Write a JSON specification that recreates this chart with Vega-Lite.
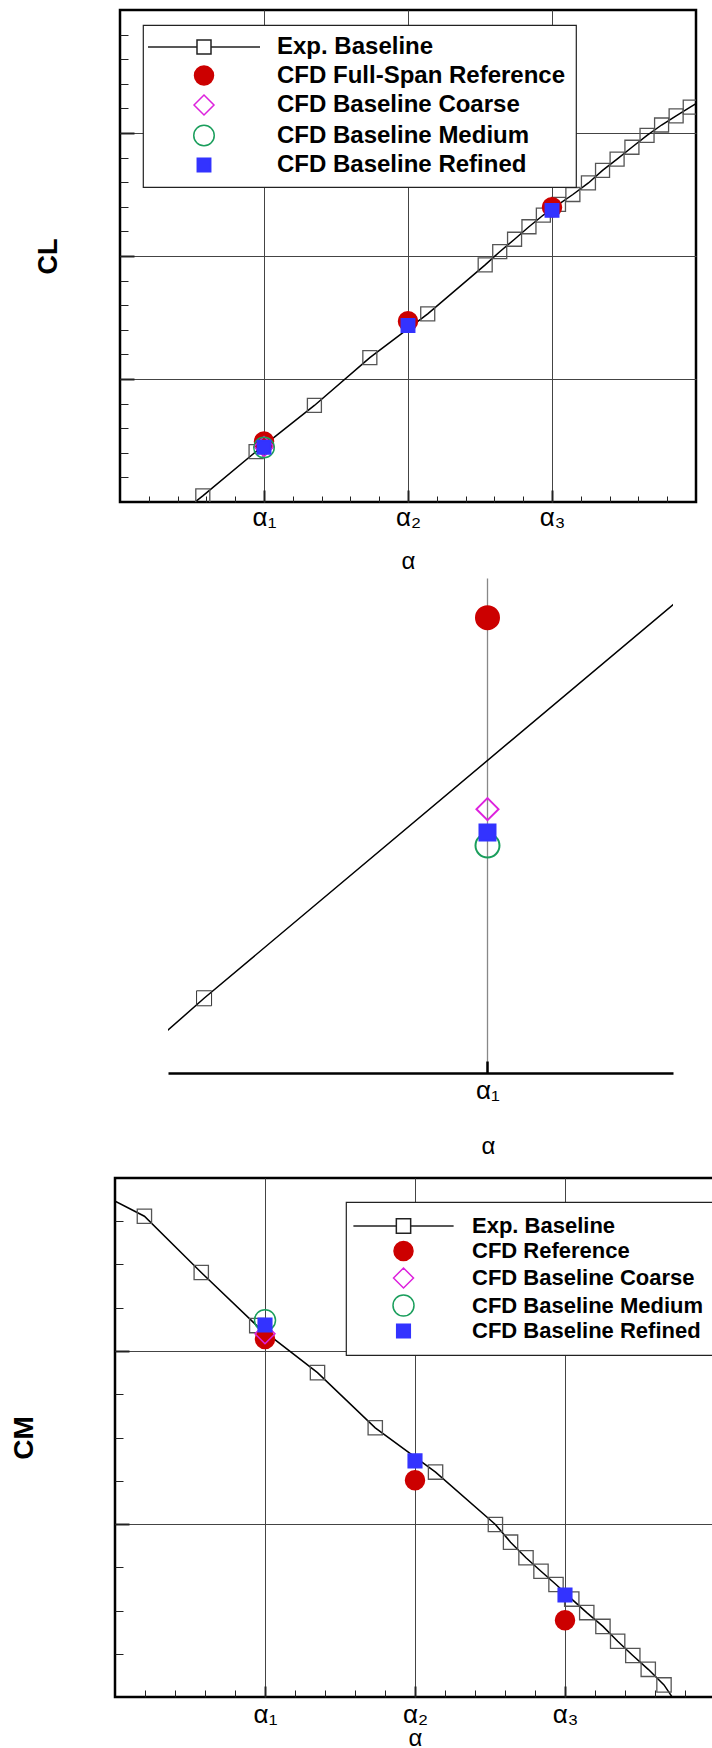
{
  "$schema": "https://vega.github.io/schema/vega-lite/v6.json",
  "background": "white",
  "padding": {"left": 0, "top": 8, "right": 0, "bottom": 0},
  "autosize": {"type": "pad"},
  "spacing": 0,
  "bounds": "full",
  "resolve": {
    "scale": {"shape": "independent", "fill": "independent", "stroke": "independent", "size": "independent"},
    "legend": {"shape": "independent", "fill": "independent", "stroke": "independent", "size": "independent"}
  },
  "config": {
    "view": {"stroke": null},
    "font": "Liberation Sans",
    "axis": {"labelColor": "black", "titleColor": "black", "labelFont": "Liberation Sans", "titleFont": "Liberation Sans"},
    "legend": {"strokeWidth": 1.2}
  },
  "datasets": {
    "cl_exp": [
      {"alpha": 0.196, "cl": -0.30},
      {"alpha": 0.575, "cl": 0.05},
      {"alpha": 0.945, "cl": 0.41},
      {"alpha": 1.35, "cl": 0.785},
      {"alpha": 1.735, "cl": 1.174},
      {"alpha": 2.137, "cl": 1.53},
      {"alpha": 2.536, "cl": 1.928},
      {"alpha": 2.637, "cl": 2.035},
      {"alpha": 2.74, "cl": 2.136},
      {"alpha": 2.84, "cl": 2.238},
      {"alpha": 2.94, "cl": 2.333},
      {"alpha": 3.045, "cl": 2.42},
      {"alpha": 3.145, "cl": 2.5},
      {"alpha": 3.253, "cl": 2.594},
      {"alpha": 3.351, "cl": 2.696},
      {"alpha": 3.452, "cl": 2.788},
      {"alpha": 3.555, "cl": 2.884},
      {"alpha": 3.66, "cl": 2.98},
      {"alpha": 3.761, "cl": 3.065},
      {"alpha": 3.862, "cl": 3.14},
      {"alpha": 3.96, "cl": 3.21},
      {"alpha": 4.06, "cl": 3.28}
    ],
    "cl_cfd": [
      {"alpha": 1, "cl": 0.4915, "series": "CFD Full-Span Reference"},
      {"alpha": 1, "cl": 0.4505, "series": "CFD Baseline Coarse"},
      {"alpha": 1, "cl": 0.4427, "series": "CFD Baseline Medium"},
      {"alpha": 1, "cl": 0.4455, "series": "CFD Baseline Refined"},
      {"alpha": 2, "cl": 1.47, "series": "CFD Full-Span Reference"},
      {"alpha": 2, "cl": 1.435, "series": "CFD Baseline Refined"},
      {"alpha": 3, "cl": 2.397, "series": "CFD Full-Span Reference"},
      {"alpha": 3, "cl": 2.371, "series": "CFD Baseline Refined"}
    ],
    "cm_exp": [
      {"alpha": -0.2, "cm": 2.955},
      {"alpha": 0.196, "cm": 2.779},
      {"alpha": 0.575, "cm": 2.454},
      {"alpha": 0.945, "cm": 2.147},
      {"alpha": 1.35, "cm": 1.875},
      {"alpha": 1.735, "cm": 1.556},
      {"alpha": 2.137, "cm": 1.3},
      {"alpha": 2.536, "cm": 0.997},
      {"alpha": 2.637, "cm": 0.895},
      {"alpha": 2.74, "cm": 0.805},
      {"alpha": 2.84, "cm": 0.727},
      {"alpha": 2.94, "cm": 0.65},
      {"alpha": 3.045, "cm": 0.566},
      {"alpha": 3.145, "cm": 0.488},
      {"alpha": 3.253, "cm": 0.408},
      {"alpha": 3.351, "cm": 0.322},
      {"alpha": 3.452, "cm": 0.24},
      {"alpha": 3.555, "cm": 0.16},
      {"alpha": 3.66, "cm": 0.07},
      {"alpha": 3.761, "cm": -0.06}
    ],
    "cm_cfd": [
      {"alpha": 1, "cm": 2.07, "series": "CFD Reference"},
      {"alpha": 1, "cm": 2.1, "series": "CFD Baseline Coarse"},
      {"alpha": 1, "cm": 2.178, "series": "CFD Baseline Medium"},
      {"alpha": 1, "cm": 2.15, "series": "CFD Baseline Refined"},
      {"alpha": 2, "cm": 1.253, "series": "CFD Reference"},
      {"alpha": 2, "cm": 1.365, "series": "CFD Baseline Refined"},
      {"alpha": 3, "cm": 0.444, "series": "CFD Reference"},
      {"alpha": 3, "cm": 0.59, "series": "CFD Baseline Refined"}
    ]
  },
  "vconcat": [
    {
      "spacing": 0,
      "bounds": "flush",
      "resolve": {"scale": {"shape": "independent", "fill": "independent", "stroke": "independent", "size": "independent"}},
      "hconcat": [
        {"width": 120, "height": 568, "data": {"values": []}, "mark": {"type": "point"}},
        {
          "width": 576,
          "height": 492,
          "view": {"stroke": "black", "strokeWidth": 2.5},
          "encoding": {
            "x": {
              "field": "alpha", "type": "quantitative",
              "scale": {"domain": [0, 4], "nice": false, "zero": false},
              "axis": {
                "title": "α", "titleFontSize": 24, "titleFontWeight": "normal",
                "titleX": 288, "titleY": 59, "titleBaseline": "middle", "titleAlign": "center",
                "values": [0.2, 0.4, 0.6, 0.8, 1, 1.2, 1.4, 1.6, 1.8, 2, 2.2, 2.4, 2.6, 2.8, 3, 3.2, 3.4, 3.6, 3.8],
                "domain": false,
                "grid": true, "gridColor": "#444444", "gridWidth": 1,
                "gridOpacity": {"condition": {"test": "datum.value % 1 === 0", "value": 1}, "value": 0},
                "tickColor": "#222222",
                "tickSize": {"condition": {"test": "datum.value % 1 === 0", "value": -12}, "value": -6},
                "tickWidth": {"condition": {"test": "datum.value % 1 === 0", "value": 2}, "value": 1},
                "labelExpr": "datum.value === 1 ? 'α₁' : datum.value === 2 ? 'α₂' : datum.value === 3 ? 'α₃' : ''",
                "labelFontSize": 26, "labelPadding": 27, "labelBaseline": "middle",
                "labelOverlap": false, "labelFlush": false
              }
            },
            "y": {
              "field": "cl", "type": "quantitative",
              "scale": {"domain": [0, 4], "nice": false, "zero": false},
              "axis": {
                "title": "CL", "titleFontSize": 27, "titleFontWeight": "bold",
                "titleX": -72, "titleY": 246, "titleAngle": -90, "titleAlign": "center", "titleBaseline": "middle",
                "values": [0.2, 0.4, 0.6, 0.8, 1, 1.2, 1.4, 1.6, 1.8, 2, 2.2, 2.4, 2.6, 2.8, 3, 3.2, 3.4, 3.6, 3.8],
                "domain": false, "labels": false,
                "grid": true, "gridColor": "#444444", "gridWidth": 1,
                "gridOpacity": {"condition": {"test": "datum.value % 1 === 0", "value": 1}, "value": 0},
                "tickColor": "#222222",
                "tickSize": {"condition": {"test": "datum.value % 1 === 0", "value": -14}, "value": -8},
                "tickWidth": {"condition": {"test": "datum.value % 1 === 0", "value": 2}, "value": 1}
              }
            }
          },
          "layer": [
            {"data": {"name": "cl_exp"}, "mark": {"type": "line", "color": "black", "strokeWidth": 1.5, "clip": true}, "encoding": {}},
            {"data": {"name": "cl_exp"}, "mark": {"type": "point", "shape": "square", "size": 196, "filled": false, "stroke": "#555555", "strokeWidth": 1.3, "opacity": 1, "clip": true}},
            {
              "data": {"name": "cl_cfd"},
              "mark": {"type": "point", "opacity": 1, "strokeWidth": 1.5, "clip": true},
              "encoding": {
                "shape": {
                  "field": "series", "type": "nominal",
                  "scale": {
                    "domain": ["Exp. Baseline", "CFD Full-Span Reference", "CFD Baseline Coarse", "CFD Baseline Medium", "CFD Baseline Refined"],
                    "range": ["M-8,0H-1M1,0H8M-1,-1H1V1H-1Z", "circle", "diamond", "circle", "square"]
                  },
                  "legend": {
                    "orient": "none", "legendX": 23, "legendY": 15, "title": null,
                    "padding": 10, "strokeColor": "#222222", "fillColor": "white",
                    "symbolOffset": 39, "labelOffset": 61, "rowPadding": 3.5,
                    "labelFontSize": 24, "labelFontWeight": "bold", "labelFont": "Liberation Sans",
                    "labelColor": "black", "labelLimit": 400, "labelBaseline": "middle",
                    "symbolStrokeWidth": 1.5
                  }
                },
                "fill": {
                  "field": "series", "type": "nominal",
                  "scale": {
                    "domain": ["Exp. Baseline", "CFD Full-Span Reference", "CFD Baseline Coarse", "CFD Baseline Medium", "CFD Baseline Refined"],
                    "range": ["transparent", "#cc0000", "transparent", "transparent", "#3333ff"]
                  }
                },
                "stroke": {
                  "field": "series", "type": "nominal",
                  "scale": {
                    "domain": ["Exp. Baseline", "CFD Full-Span Reference", "CFD Baseline Coarse", "CFD Baseline Medium", "CFD Baseline Refined"],
                    "range": ["#222222", "#cc0000", "#dd22dd", "#1a9e5c", "#3333ff"]
                  }
                },
                "size": {
                  "field": "series", "type": "nominal",
                  "scale": {
                    "type": "ordinal",
                    "domain": ["Exp. Baseline", "CFD Full-Span Reference", "CFD Baseline Coarse", "CFD Baseline Medium", "CFD Baseline Refined"],
                    "range": [196, 361, 400, 420, 180]
                  }
                }
              }
            }
          ]
        }
      ]
    },
    {
      "spacing": 0,
      "bounds": "flush",
      "resolve": {"scale": {"shape": "independent", "fill": "independent", "stroke": "independent", "size": "independent"}},
      "hconcat": [
        {"width": 168, "height": 598, "data": {"values": []}, "mark": {"type": "point"}},
        {
          "width": 505,
          "height": 495,
          "encoding": {
            "x": {
              "field": "alpha", "type": "quantitative",
              "scale": {"domain": [0.938, 1.036], "nice": false, "zero": false},
              "axis": {
                "title": "α", "titleFontSize": 24, "titleFontWeight": "normal",
                "titleX": 320, "titleY": 73, "titleBaseline": "middle", "titleAlign": "center",
                "values": [1],
                "domain": true, "domainColor": "black", "domainWidth": 2.5,
                "grid": true, "gridColor": "#888888", "gridWidth": 1.3,
                "tickColor": "black", "tickSize": -12, "tickWidth": 2.5,
                "labelExpr": "'α₁'",
                "labelFontSize": 26, "labelPadding": 29, "labelBaseline": "middle",
                "labelOverlap": false, "labelFlush": false
              }
            },
            "y": {
              "field": "cl", "type": "quantitative",
              "scale": {"domain": [0.394, 0.5], "nice": false, "zero": false},
              "axis": null
            }
          },
          "layer": [
            {"data": {"name": "cl_exp"}, "mark": {"type": "line", "color": "black", "strokeWidth": 1.5, "clip": true}, "encoding": {}},
            {"data": {"name": "cl_exp"}, "mark": {"type": "point", "shape": "square", "size": 225, "filled": false, "stroke": "#333333", "strokeWidth": 1, "opacity": 1, "clip": true}},
            {
              "data": {"name": "cl_cfd"},
              "mark": {"type": "point", "opacity": 1, "strokeWidth": 2, "clip": true},
              "encoding": {
                "shape": {
                  "field": "series", "type": "nominal", "legend": null,
                  "scale": {
                    "domain": ["Exp. Baseline", "CFD Full-Span Reference", "CFD Baseline Coarse", "CFD Baseline Medium", "CFD Baseline Refined"],
                    "range": ["square", "circle", "diamond", "circle", "square"]
                  }
                },
                "fill": {
                  "field": "series", "type": "nominal", "legend": null,
                  "scale": {
                    "domain": ["Exp. Baseline", "CFD Full-Span Reference", "CFD Baseline Coarse", "CFD Baseline Medium", "CFD Baseline Refined"],
                    "range": ["transparent", "#cc0000", "transparent", "transparent", "#3333ff"]
                  }
                },
                "stroke": {
                  "field": "series", "type": "nominal", "legend": null,
                  "scale": {
                    "domain": ["Exp. Baseline", "CFD Full-Span Reference", "CFD Baseline Coarse", "CFD Baseline Medium", "CFD Baseline Refined"],
                    "range": ["#222222", "#cc0000", "#dd22dd", "#1a9e5c", "#3333ff"]
                  }
                },
                "size": {
                  "field": "series", "type": "nominal", "legend": null,
                  "scale": {
                    "type": "ordinal",
                    "domain": ["Exp. Baseline", "CFD Full-Span Reference", "CFD Baseline Coarse", "CFD Baseline Medium", "CFD Baseline Refined"],
                    "range": [225, 529, 484, 576, 256]
                  }
                }
              }
            }
          ]
        }
      ]
    },
    {
      "spacing": 0,
      "bounds": "flush",
      "resolve": {"scale": {"shape": "independent", "fill": "independent", "stroke": "independent", "size": "independent"}},
      "hconcat": [
        {"width": 115, "height": 1, "data": {"values": []}, "mark": {"type": "point"}},
        {
          "width": 600,
          "height": 519,
          "view": {"stroke": "black", "strokeWidth": 2.5},
          "encoding": {
            "x": {
              "field": "alpha", "type": "quantitative",
              "scale": {"domain": [0, 4], "nice": false, "zero": false},
              "axis": {
                "title": "α", "titleFontSize": 24, "titleFontWeight": "normal",
                "titleX": 300, "titleY": 41, "titleBaseline": "middle", "titleAlign": "center",
                "values": [0.2, 0.4, 0.6, 0.8, 1, 1.2, 1.4, 1.6, 1.8, 2, 2.2, 2.4, 2.6, 2.8, 3, 3.2, 3.4, 3.6, 3.8],
                "domain": false,
                "grid": true, "gridColor": "#444444", "gridWidth": 1,
                "gridOpacity": {"condition": {"test": "datum.value % 1 === 0", "value": 1}, "value": 0},
                "tickColor": "#222222",
                "tickSize": {"condition": {"test": "datum.value % 1 === 0", "value": -11}, "value": -7},
                "tickWidth": {"condition": {"test": "datum.value % 1 === 0", "value": 2}, "value": 1},
                "labelExpr": "datum.value === 1 ? 'α₁' : datum.value === 2 ? 'α₂' : datum.value === 3 ? 'α₃' : ''",
                "labelFontSize": 26, "labelPadding": 28, "labelBaseline": "middle",
                "labelOverlap": false, "labelFlush": false
              }
            },
            "y": {
              "field": "cm", "type": "quantitative",
              "scale": {"domain": [0, 3], "nice": false, "zero": false},
              "axis": {
                "title": "CM", "titleFontSize": 28, "titleFontWeight": "bold",
                "titleX": -91, "titleY": 259.5, "titleAngle": -90, "titleAlign": "center", "titleBaseline": "middle",
                "values": [0.25, 0.5, 0.75, 1, 1.25, 1.5, 1.75, 2, 2.25, 2.5, 2.75],
                "domain": false, "labels": false,
                "grid": true, "gridColor": "#444444", "gridWidth": 1,
                "gridOpacity": {"condition": {"test": "datum.value % 1 === 0", "value": 1}, "value": 0},
                "tickColor": "#222222",
                "tickSize": {"condition": {"test": "datum.value % 1 === 0", "value": -14}, "value": -8},
                "tickWidth": {"condition": {"test": "datum.value % 1 === 0", "value": 2}, "value": 1}
              }
            }
          },
          "layer": [
            {"data": {"name": "cm_exp"}, "mark": {"type": "line", "color": "black", "strokeWidth": 1.5, "clip": true}, "encoding": {}},
            {"data": {"name": "cm_exp"}, "mark": {"type": "point", "shape": "square", "size": 205, "filled": false, "stroke": "#555555", "strokeWidth": 1.3, "opacity": 1, "clip": true}},
            {
              "data": {"name": "cm_cfd"},
              "mark": {"type": "point", "opacity": 1, "strokeWidth": 1.5, "clip": true},
              "encoding": {
                "shape": {
                  "field": "series", "type": "nominal",
                  "scale": {
                    "domain": ["Exp. Baseline", "CFD Reference", "CFD Baseline Coarse", "CFD Baseline Medium", "CFD Baseline Refined"],
                    "range": ["M-7,0H-1M1,0H7M-1,-1H1V1H-1Z", "circle", "diamond", "circle", "square"]
                  },
                  "legend": {
                    "orient": "none", "legendX": 231, "legendY": 24, "title": null,
                    "padding": 13, "strokeColor": "#222222", "fillColor": "white",
                    "symbolOffset": 33, "labelOffset": 57, "rowPadding": 1,
                    "labelFontSize": 22, "labelFontWeight": "bold", "labelFont": "Liberation Sans",
                    "labelColor": "black", "labelLimit": 400, "labelBaseline": "middle",
                    "symbolStrokeWidth": 1.5
                  }
                },
                "fill": {
                  "field": "series", "type": "nominal",
                  "scale": {
                    "domain": ["Exp. Baseline", "CFD Reference", "CFD Baseline Coarse", "CFD Baseline Medium", "CFD Baseline Refined"],
                    "range": ["transparent", "#cc0000", "transparent", "transparent", "#3333ff"]
                  }
                },
                "stroke": {
                  "field": "series", "type": "nominal",
                  "scale": {
                    "domain": ["Exp. Baseline", "CFD Reference", "CFD Baseline Coarse", "CFD Baseline Medium", "CFD Baseline Refined"],
                    "range": ["#222222", "#cc0000", "#dd22dd", "#1a9e5c", "#3333ff"]
                  }
                },
                "size": {
                  "field": "series", "type": "nominal",
                  "scale": {
                    "type": "ordinal",
                    "domain": ["Exp. Baseline", "CFD Reference", "CFD Baseline Coarse", "CFD Baseline Medium", "CFD Baseline Refined"],
                    "range": [205, 361, 400, 441, 185]
                  }
                }
              }
            }
          ]
        }
      ]
    }
  ]
}
